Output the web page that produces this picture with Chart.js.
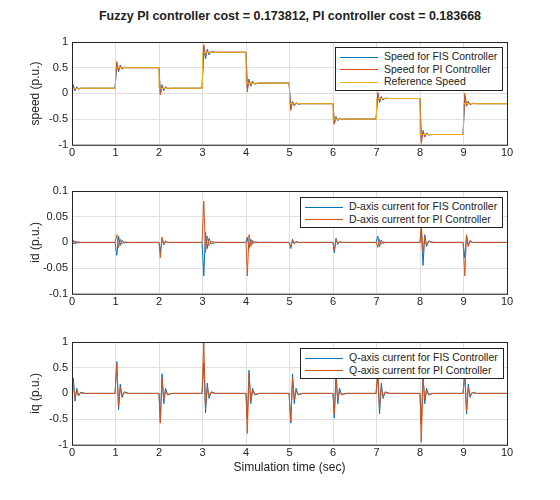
<!DOCTYPE html>
<html><head><meta charset="utf-8">
<script src="https://cdn.jsdelivr.net/npm/chart.js@4"></script>
<style>
body{margin:0;background:#fff;font-family:"Liberation Sans",Arial,sans-serif;}
#title{position:absolute;top:9px;left:0;width:580px;text-align:center;font-weight:bold;font-size:12.5px;color:#222;}
.box{position:absolute;left:0;width:560px;height:132px;}
.leg{position:absolute;background:#fff;border:1px solid #222;font-size:10.5px;color:#222;padding:2px 5px 2px 4px;line-height:12.5px;}
.leg span{display:inline-block;width:38px;height:0;border-top:1px solid;vertical-align:middle;margin-right:6px;}
#xl{position:absolute;top:460px;left:72px;width:435px;text-align:center;font-size:12px;color:#222;}
</style></head><body>
<div id="title">Fuzzy PI controller cost = 0.173812, PI controller cost = 0.183668</div>
<div class="box" style="top:30px"><canvas id="c1"></canvas></div>
<div class="box" style="top:179px"><canvas id="c2"></canvas></div>
<div class="box" style="top:330px"><canvas id="c3"></canvas></div>
<div class="leg" style="left:335px;top:47px"><div><span style="border-color:#0072BD"></span>Speed for FIS Controller</div><div><span style="border-color:#D95319"></span>Speed for PI Controller</div><div><span style="border-color:#EDB120"></span>Reference Speed</div></div>
<div class="leg" style="left:300px;top:197px"><div><span style="border-color:#0072BD"></span>D-axis current for FIS Controller</div><div><span style="border-color:#D95319"></span>D-axis current for PI Controller</div></div>
<div class="leg" style="left:300px;top:348px"><div><span style="border-color:#0072BD"></span>Q-axis current for FIS Controller</div><div><span style="border-color:#D95319"></span>Q-axis current for PI Controller</div></div>
<div id="xl">Simulation time (sec)</div>
<script>
// sample offsets inside each 1 s segment
var offsets = [0, 0.03, 0.07, 0.11, 0.15, 0.2, 0.3, 0.99];
var refSpeed = [0.1, 0.5, 0.1, 0.8, 0.2, -0.2, -0.5, -0.1, -0.8, -0.2];

var speedFIS = [
 [0.05,0.17,0.05,0.13,0.08,0.1,0.1,0.1],
 [0.1,0.58,0.42,0.55,0.47,0.51,0.5,0.5],
 [0.5,0.0,0.17,0.05,0.13,0.09,0.1,0.1],
 [0.1,0.9,0.67,0.86,0.75,0.82,0.8,0.8],
 [0.8,0.1,0.28,0.14,0.24,0.18,0.2,0.2],
 [0.2,-0.3,-0.15,-0.24,-0.18,-0.21,-0.2,-0.2],
 [-0.2,-0.58,-0.45,-0.53,-0.48,-0.51,-0.5,-0.5],
 [-0.5,0.0,-0.18,-0.06,-0.13,-0.09,-0.1,-0.1],
 [-0.1,-0.92,-0.72,-0.85,-0.77,-0.81,-0.8,-0.8],
 [-0.8,-0.05,-0.25,-0.15,-0.22,-0.19,-0.2,-0.2]];
var speedPI = [
 [0.0,0.12,0.07,0.11,0.09,0.1,0.1,0.1],
 [0.1,0.62,0.45,0.53,0.49,0.5,0.5,0.5],
 [0.5,-0.03,0.14,0.08,0.11,0.1,0.1,0.1],
 [0.1,0.95,0.72,0.84,0.78,0.81,0.8,0.8],
 [0.8,0.03,0.25,0.16,0.22,0.19,0.2,0.2],
 [0.2,-0.33,-0.16,-0.23,-0.19,-0.2,-0.2,-0.2],
 [-0.2,-0.6,-0.46,-0.52,-0.49,-0.5,-0.5,-0.5],
 [-0.5,0.02,-0.16,-0.07,-0.12,-0.1,-0.1,-0.1],
 [-0.1,-0.97,-0.74,-0.84,-0.78,-0.8,-0.8,-0.8],
 [-0.8,0.0,-0.24,-0.16,-0.21,-0.2,-0.2,-0.2]];
var idFIS = [
 [0,0.004,-0.003,0.002,-0.001,0,0,0],
 [0,-0.025,0.012,-0.006,0.004,-0.001,0,0],
 [0,-0.02,0.008,-0.004,0.002,0,0,0],
 [0,-0.065,0.02,-0.012,0.008,-0.003,0,0],
 [0,0.01,-0.012,0.006,-0.003,0.001,0,0],
 [0,-0.012,0.006,-0.003,0.002,0,0,0],
 [0,-0.02,0.008,-0.004,0.002,0,0,0],
 [0,0.012,-0.008,0.004,-0.002,0,0,0],
 [0,0.025,-0.045,0.015,-0.008,0.003,0,0],
 [0,-0.03,0.012,-0.006,0.003,0,0,0]];
var idPI = [
 [0,-0.003,0.003,-0.002,0.001,0,0,0],
 [0,0.015,-0.01,0.006,-0.003,0.001,0,0],
 [0,-0.03,0.01,-0.005,0.003,0,0,0],
 [0,0.08,-0.02,0.012,-0.006,0.002,0,0],
 [0,-0.065,0.015,-0.008,0.004,-0.001,0,0],
 [0,-0.008,0.004,-0.002,0.001,0,0,0],
 [0,-0.015,0.006,-0.003,0.001,0,0,0],
 [0,-0.01,0.006,-0.003,0.001,0,0,0],
 [0,0.035,-0.02,0.01,-0.005,0.002,0,0],
 [0,-0.065,0.015,-0.008,0.004,0,0,0]];
var iqFIS = [
 [-0.2,0.3,-0.15,0.1,-0.05,0.02,0,0],
 [0,0.62,-0.32,0.18,-0.08,0.03,0,0],
 [0,-0.55,0.38,-0.2,0.1,-0.03,0,0],
 [0,0.6,-0.38,0.2,-0.1,0.03,0,0],
 [0,-0.5,0.45,-0.2,0.1,-0.03,0,0],
 [0,-0.58,0.38,-0.2,0.1,-0.03,0,0],
 [0,-0.48,0.42,-0.2,0.1,-0.03,0,0],
 [0,0.35,-0.4,0.2,-0.1,0.03,0,0],
 [0,-0.6,0.35,-0.2,0.1,-0.03,0,0],
 [0,0.38,-0.4,0.18,-0.08,0.02,0,0]];
var iqPI = [
 [0,0.2,-0.1,0.06,-0.03,0.01,0,0],
 [0,0.58,-0.25,0.12,-0.05,0.02,0,0],
 [0,-0.58,0.3,-0.12,0.05,-0.02,0,0],
 [0,1.0,-0.3,0.12,-0.05,0.02,0,0],
 [0,-0.78,0.38,-0.15,0.06,-0.02,0,0],
 [0,-0.55,0.3,-0.12,0.05,-0.02,0,0],
 [0,-0.4,0.3,-0.12,0.05,-0.02,0,0],
 [0,0.45,-0.3,0.12,-0.05,0.02,0,0],
 [0,-0.95,0.3,-0.12,0.05,-0.02,0,0],
 [0,0.45,-0.35,0.12,-0.05,0.02,0,0]];

function toPoints(segs) {
  var pts = [];
  segs.forEach(function(seg, k) {
    seg.forEach(function(v, i) { pts.push({x: k + offsets[i], y: v}); });
  });
  pts.push({x: 10, y: segs[segs.length - 1][offsets.length - 1]});
  return pts;
}
var refPts = refSpeed.map(function(v, k) { return {x: k, y: v}; });
refPts.push({x: 10, y: refSpeed[refSpeed.length - 1]});

Chart.defaults.font.family = '"Liberation Sans", Arial, sans-serif';
Chart.defaults.font.size = 11;
Chart.defaults.color = '#222';

var boxPlugin = {
  id: 'box',
  afterDraw: function(chart) {
    var a = chart.chartArea, c = chart.ctx;
    c.save(); c.strokeStyle = '#262626'; c.lineWidth = 1;
    c.strokeRect(a.left + 0.5, a.top + 0.5, a.right - a.left, a.bottom - a.top);
    c.restore();
  }
};

function line(data, color, order, stepped) {
  return {data: data, borderColor: color, borderWidth: 1, pointRadius: 0, fill: false, tension: 0, order: order, stepped: stepped ? 'before' : false};
}

function makeChart(id, datasets, yMin, yMax, yStep, yTitle) {
  return new Chart(document.getElementById(id), {
    type: 'line',
    data: {datasets: datasets},
    plugins: [boxPlugin],
    options: {
      responsive: false, animation: false,
      layout: {padding: {top: 12, right: 53, left: 28, bottom: 0}},
      plugins: {legend: {display: false}, tooltip: {enabled: false}},
      scales: {
        x: {type: 'linear', min: 0, max: 10,
            ticks: {stepSize: 1, maxRotation: 0, padding: 2},
            grid: {color: '#dfdfdf', tickLength: 0}, border: {display: false}},
        y: {min: yMin, max: yMax,
            ticks: {stepSize: yStep, padding: 4, callback: function(v) { return Math.round(v * 1000) / 1000; }},
            afterFit: function(s) { s.width = 44; },
            title: {display: true, text: yTitle, font: {size: 12}, padding: 0},
            grid: {color: '#dfdfdf', tickLength: 0}, border: {display: false}}
      }
    }
  });
}
['c1','c2','c3'].forEach(function(id){ var c=document.getElementById(id); c.width=560; c.height=132; });

makeChart('c1', [
  line(toPoints(speedFIS), '#0072BD', 3),
  line(toPoints(speedPI), '#D95319', 2),
  line(refPts, '#EDB120', 1, true)
], -1, 1, 0.5, 'speed (p.u.)');
makeChart('c2', [
  line(toPoints(idFIS), '#0072BD', 3),
  line(toPoints(idPI), '#D95319', 2)
], -0.1, 0.1, 0.05, 'id (p.u.)');
makeChart('c3', [
  line(toPoints(iqFIS), '#0072BD', 3),
  line(toPoints(iqPI), '#D95319', 2)
], -1, 1, 0.5, 'iq (p.u.)');
</script>
</body></html>
